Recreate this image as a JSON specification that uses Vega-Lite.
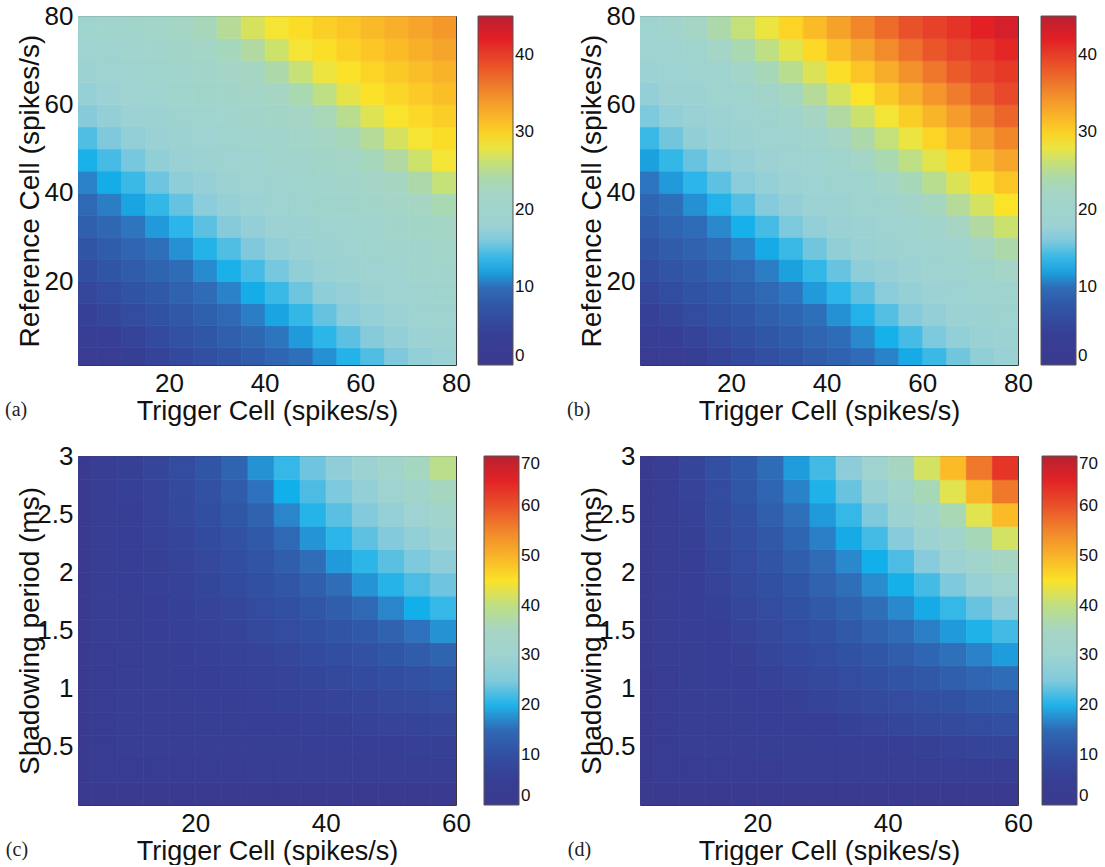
{
"$schema":"https://vega.github.io/schema/vega-lite/v6.json",
"autosize":{"type":"pad"},
"padding":{"left":4,"top":2,"right":0,"bottom":0},
"background":"white",
"bounds":"flush",
"columns":2,
"spacing":{"row":91,"column":184},
"config":{
"view":{"stroke":"#3a3a3a","strokeWidth":1},
"axis":{"labelFont":"Liberation Sans","labelFontSize":26,"labelColor":"#111","titleFont":"Liberation Sans","titleFontSize":27,"titleFontWeight":"normal","titleColor":"#111","ticks":false,"domain":false,"grid":false,"labelPadding":5,"labelFlush":false,"labelOverlap":false,"labelBound":false},
"axisX":{"titlePadding":2},
"axisY":{"titlePadding":0,"titleFontSize":28},
"legend":{"orient":"right","padding":0,"gradientLength":349,"gradientThickness":35,"labelFont":"Liberation Sans","labelFontSize":17,"labelColor":"#111","labelOffset":6,"gradientStrokeColor":"#555","gradientStrokeWidth":1,"labelOverlap":false},
"title":{"font":"Liberation Serif","fontSize":20,"fontWeight":"normal","color":"#222","orient":"bottom","anchor":"start","frame":"bounds","offset":-24,"dx":-11}
},
"resolve":{"scale":{"color":"independent"},"legend":{"color":"independent"}},
"datasets":{
"a":[
{"x":0,"y":0,"v":2},{"x":5,"y":0,"v":2.8},{"x":10,"y":0,"v":3.7},{"x":15,"y":0,"v":4.6},{"x":20,"y":0,"v":5.5},{"x":25,"y":0,"v":6.5},{"x":30,"y":0,"v":7.4},{"x":35,"y":0,"v":8.4},{"x":40,"y":0,"v":9.2},{"x":45,"y":0,"v":10.1},{"x":50,"y":0,"v":11.5},{"x":55,"y":0,"v":13},{"x":60,"y":0,"v":14.5},{"x":65,"y":0,"v":16},{"x":70,"y":0,"v":17.2},{"x":75,"y":0,"v":17.8},
{"x":0,"y":5,"v":3},{"x":5,"y":5,"v":3.9},{"x":10,"y":5,"v":4.8},{"x":15,"y":5,"v":5.7},{"x":20,"y":5,"v":6.7},{"x":25,"y":5,"v":7.6},{"x":30,"y":5,"v":8.6},{"x":35,"y":5,"v":9.4},{"x":40,"y":5,"v":10.4},{"x":45,"y":5,"v":11.8},{"x":50,"y":5,"v":13.3},{"x":55,"y":5,"v":14.8},{"x":60,"y":5,"v":16.3},{"x":65,"y":5,"v":17.3},{"x":70,"y":5,"v":17.9},{"x":75,"y":5,"v":18.5},
{"x":0,"y":10,"v":4.1},{"x":5,"y":10,"v":5},{"x":10,"y":10,"v":5.9},{"x":15,"y":10,"v":6.9},{"x":20,"y":10,"v":7.8},{"x":25,"y":10,"v":8.7},{"x":30,"y":10,"v":9.6},{"x":35,"y":10,"v":10.7},{"x":40,"y":10,"v":12.1},{"x":45,"y":10,"v":13.6},{"x":50,"y":10,"v":15.1},{"x":55,"y":10,"v":16.6},{"x":60,"y":10,"v":17.4},{"x":65,"y":10,"v":18},{"x":70,"y":10,"v":18.7},{"x":75,"y":10,"v":19.3},
{"x":0,"y":15,"v":5.2},{"x":5,"y":15,"v":6.1},{"x":10,"y":15,"v":7.1},{"x":15,"y":15,"v":8},{"x":20,"y":15,"v":8.9},{"x":25,"y":15,"v":9.8},{"x":30,"y":15,"v":11},{"x":35,"y":15,"v":12.4},{"x":40,"y":15,"v":13.9},{"x":45,"y":15,"v":15.4},{"x":50,"y":15,"v":16.9},{"x":55,"y":15,"v":17.5},{"x":60,"y":15,"v":18.2},{"x":65,"y":15,"v":18.8},{"x":70,"y":15,"v":19.4},{"x":75,"y":15,"v":20},
{"x":0,"y":20,"v":6.3},{"x":5,"y":20,"v":7.3},{"x":10,"y":20,"v":8.2},{"x":15,"y":20,"v":9.1},{"x":20,"y":20,"v":9.9},{"x":25,"y":20,"v":11.3},{"x":30,"y":20,"v":12.7},{"x":35,"y":20,"v":14.2},{"x":40,"y":20,"v":15.7},{"x":45,"y":20,"v":17.1},{"x":50,"y":20,"v":17.7},{"x":55,"y":20,"v":18.3},{"x":60,"y":20,"v":18.9},{"x":65,"y":20,"v":19.5},{"x":70,"y":20,"v":20.1},{"x":75,"y":20,"v":20.7},
{"x":0,"y":25,"v":7.4},{"x":5,"y":25,"v":8.4},{"x":10,"y":25,"v":9.2},{"x":15,"y":25,"v":10.1},{"x":20,"y":25,"v":11.5},{"x":25,"y":25,"v":13},{"x":30,"y":25,"v":14.5},{"x":35,"y":25,"v":16},{"x":40,"y":25,"v":17.2},{"x":45,"y":25,"v":17.8},{"x":50,"y":25,"v":18.4},{"x":55,"y":25,"v":19},{"x":60,"y":25,"v":19.6},{"x":65,"y":25,"v":20.2},{"x":70,"y":25,"v":20.8},{"x":75,"y":25,"v":21.5},
{"x":0,"y":30,"v":8.6},{"x":5,"y":30,"v":9.4},{"x":10,"y":30,"v":10.4},{"x":15,"y":30,"v":11.8},{"x":20,"y":30,"v":13.3},{"x":25,"y":30,"v":14.8},{"x":30,"y":30,"v":16.3},{"x":35,"y":30,"v":17.3},{"x":40,"y":30,"v":17.9},{"x":45,"y":30,"v":18.5},{"x":50,"y":30,"v":19.1},{"x":55,"y":30,"v":19.8},{"x":60,"y":30,"v":20.4},{"x":65,"y":30,"v":21},{"x":70,"y":30,"v":21.6},{"x":75,"y":30,"v":22.3},
{"x":0,"y":35,"v":9.6},{"x":5,"y":35,"v":10.7},{"x":10,"y":35,"v":12.1},{"x":15,"y":35,"v":13.6},{"x":20,"y":35,"v":15.1},{"x":25,"y":35,"v":16.6},{"x":30,"y":35,"v":17.4},{"x":35,"y":35,"v":18},{"x":40,"y":35,"v":18.7},{"x":45,"y":35,"v":19.3},{"x":50,"y":35,"v":19.9},{"x":55,"y":35,"v":20.5},{"x":60,"y":35,"v":21.1},{"x":65,"y":35,"v":21.7},{"x":70,"y":35,"v":22.5},{"x":75,"y":35,"v":23.7},
{"x":0,"y":40,"v":11},{"x":5,"y":40,"v":12.4},{"x":10,"y":40,"v":13.9},{"x":15,"y":40,"v":15.4},{"x":20,"y":40,"v":16.9},{"x":25,"y":40,"v":17.5},{"x":30,"y":40,"v":18.2},{"x":35,"y":40,"v":18.8},{"x":40,"y":40,"v":19.4},{"x":45,"y":40,"v":20},{"x":50,"y":40,"v":20.6},{"x":55,"y":40,"v":21.2},{"x":60,"y":40,"v":21.8},{"x":65,"y":40,"v":22.7},{"x":70,"y":40,"v":24.1},{"x":75,"y":40,"v":26.1},
{"x":0,"y":45,"v":12.7},{"x":5,"y":45,"v":14.2},{"x":10,"y":45,"v":15.7},{"x":15,"y":45,"v":17.1},{"x":20,"y":45,"v":17.7},{"x":25,"y":45,"v":18.3},{"x":30,"y":45,"v":18.9},{"x":35,"y":45,"v":19.5},{"x":40,"y":45,"v":20.1},{"x":45,"y":45,"v":20.7},{"x":50,"y":45,"v":21.3},{"x":55,"y":45,"v":21.9},{"x":60,"y":45,"v":23},{"x":65,"y":45,"v":24.5},{"x":70,"y":45,"v":26.5},{"x":75,"y":45,"v":28.4},
{"x":0,"y":50,"v":14.5},{"x":5,"y":50,"v":16},{"x":10,"y":50,"v":17.2},{"x":15,"y":50,"v":17.8},{"x":20,"y":50,"v":18.4},{"x":25,"y":50,"v":19},{"x":30,"y":50,"v":19.6},{"x":35,"y":50,"v":20.2},{"x":40,"y":50,"v":20.8},{"x":45,"y":50,"v":21.5},{"x":50,"y":50,"v":22.1},{"x":55,"y":50,"v":23.2},{"x":60,"y":50,"v":24.9},{"x":65,"y":50,"v":26.9},{"x":70,"y":50,"v":28.5},{"x":75,"y":50,"v":29.3},
{"x":0,"y":55,"v":16.3},{"x":5,"y":55,"v":17.3},{"x":10,"y":55,"v":17.9},{"x":15,"y":55,"v":18.5},{"x":20,"y":55,"v":19.1},{"x":25,"y":55,"v":19.8},{"x":30,"y":55,"v":20.4},{"x":35,"y":55,"v":21},{"x":40,"y":55,"v":21.6},{"x":45,"y":55,"v":22.3},{"x":50,"y":55,"v":23.4},{"x":55,"y":55,"v":25.3},{"x":60,"y":55,"v":27.3},{"x":65,"y":55,"v":28.7},{"x":70,"y":55,"v":29.5},{"x":75,"y":55,"v":30.3},
{"x":0,"y":60,"v":17.4},{"x":5,"y":60,"v":18},{"x":10,"y":60,"v":18.7},{"x":15,"y":60,"v":19.3},{"x":20,"y":60,"v":19.9},{"x":25,"y":60,"v":20.5},{"x":30,"y":60,"v":21.1},{"x":35,"y":60,"v":21.7},{"x":40,"y":60,"v":22.5},{"x":45,"y":60,"v":23.7},{"x":50,"y":60,"v":25.7},{"x":55,"y":60,"v":27.7},{"x":60,"y":60,"v":28.9},{"x":65,"y":60,"v":29.7},{"x":70,"y":60,"v":30.5},{"x":75,"y":60,"v":31.3},
{"x":0,"y":65,"v":18.2},{"x":5,"y":65,"v":18.8},{"x":10,"y":65,"v":19.4},{"x":15,"y":65,"v":20},{"x":20,"y":65,"v":20.6},{"x":25,"y":65,"v":21.2},{"x":30,"y":65,"v":21.8},{"x":35,"y":65,"v":22.7},{"x":40,"y":65,"v":24.1},{"x":45,"y":65,"v":26.1},{"x":50,"y":65,"v":28.1},{"x":55,"y":65,"v":29},{"x":60,"y":65,"v":29.8},{"x":65,"y":65,"v":30.6},{"x":70,"y":65,"v":31.4},{"x":75,"y":65,"v":32.2},
{"x":0,"y":70,"v":18.9},{"x":5,"y":70,"v":19.5},{"x":10,"y":70,"v":20.1},{"x":15,"y":70,"v":20.7},{"x":20,"y":70,"v":21.3},{"x":25,"y":70,"v":21.9},{"x":30,"y":70,"v":23},{"x":35,"y":70,"v":24.5},{"x":40,"y":70,"v":26.5},{"x":45,"y":70,"v":28.4},{"x":50,"y":70,"v":29.2},{"x":55,"y":70,"v":30},{"x":60,"y":70,"v":30.8},{"x":65,"y":70,"v":31.6},{"x":70,"y":70,"v":32.4},{"x":75,"y":70,"v":33.2},
{"x":0,"y":75,"v":19.6},{"x":5,"y":75,"v":20.2},{"x":10,"y":75,"v":20.8},{"x":15,"y":75,"v":21.5},{"x":20,"y":75,"v":22.1},{"x":25,"y":75,"v":23.2},{"x":30,"y":75,"v":24.9},{"x":35,"y":75,"v":26.9},{"x":40,"y":75,"v":28.5},{"x":45,"y":75,"v":29.3},{"x":50,"y":75,"v":30.1},{"x":55,"y":75,"v":30.9},{"x":60,"y":75,"v":31.7},{"x":65,"y":75,"v":32.5},{"x":70,"y":75,"v":33.3},{"x":75,"y":75,"v":34.1}
],
"b":[
{"x":0,"y":0,"v":2},{"x":5,"y":0,"v":2.8},{"x":10,"y":0,"v":3.7},{"x":15,"y":0,"v":4.6},{"x":20,"y":0,"v":5.5},{"x":25,"y":0,"v":6.4},{"x":30,"y":0,"v":7.4},{"x":35,"y":0,"v":8.3},{"x":40,"y":0,"v":9},{"x":45,"y":0,"v":9.8},{"x":50,"y":0,"v":11},{"x":55,"y":0,"v":12.3},{"x":60,"y":0,"v":13.9},{"x":65,"y":0,"v":15.5},{"x":70,"y":0,"v":17.1},{"x":75,"y":0,"v":17.7},
{"x":0,"y":5,"v":3},{"x":5,"y":5,"v":3.9},{"x":10,"y":5,"v":4.8},{"x":15,"y":5,"v":5.7},{"x":20,"y":5,"v":6.6},{"x":25,"y":5,"v":7.6},{"x":30,"y":5,"v":8.4},{"x":35,"y":5,"v":9.2},{"x":40,"y":5,"v":9.9},{"x":45,"y":5,"v":11.2},{"x":50,"y":5,"v":12.6},{"x":55,"y":5,"v":14.2},{"x":60,"y":5,"v":15.9},{"x":65,"y":5,"v":17.2},{"x":70,"y":5,"v":17.8},{"x":75,"y":5,"v":18.4},
{"x":0,"y":10,"v":4.1},{"x":5,"y":10,"v":5},{"x":10,"y":10,"v":5.9},{"x":15,"y":10,"v":6.8},{"x":20,"y":10,"v":7.7},{"x":25,"y":10,"v":8.6},{"x":30,"y":10,"v":9.3},{"x":35,"y":10,"v":10.1},{"x":40,"y":10,"v":11.5},{"x":45,"y":10,"v":12.9},{"x":50,"y":10,"v":14.6},{"x":55,"y":10,"v":16.2},{"x":60,"y":10,"v":17.3},{"x":65,"y":10,"v":17.9},{"x":70,"y":10,"v":18.5},{"x":75,"y":10,"v":19.1},
{"x":0,"y":15,"v":5.2},{"x":5,"y":15,"v":6.1},{"x":10,"y":15,"v":7},{"x":15,"y":15,"v":7.9},{"x":20,"y":15,"v":8.7},{"x":25,"y":15,"v":9.5},{"x":30,"y":15,"v":10.4},{"x":35,"y":15,"v":11.8},{"x":40,"y":15,"v":13.3},{"x":45,"y":15,"v":14.9},{"x":50,"y":15,"v":16.5},{"x":55,"y":15,"v":17.4},{"x":60,"y":15,"v":18},{"x":65,"y":15,"v":18.6},{"x":70,"y":15,"v":19.2},{"x":75,"y":15,"v":19.8},
{"x":0,"y":20,"v":6.3},{"x":5,"y":20,"v":7.2},{"x":10,"y":20,"v":8.1},{"x":15,"y":20,"v":8.9},{"x":20,"y":20,"v":9.6},{"x":25,"y":20,"v":10.7},{"x":30,"y":20,"v":12},{"x":35,"y":20,"v":13.6},{"x":40,"y":20,"v":15.2},{"x":45,"y":20,"v":16.8},{"x":50,"y":20,"v":17.5},{"x":55,"y":20,"v":18.1},{"x":60,"y":20,"v":18.7},{"x":65,"y":20,"v":19.3},{"x":70,"y":20,"v":19.9},{"x":75,"y":20,"v":21.8},
{"x":0,"y":25,"v":7.4},{"x":5,"y":25,"v":8.3},{"x":10,"y":25,"v":9},{"x":15,"y":25,"v":9.8},{"x":20,"y":25,"v":11},{"x":25,"y":25,"v":12.3},{"x":30,"y":25,"v":13.9},{"x":35,"y":25,"v":15.5},{"x":40,"y":25,"v":17.1},{"x":45,"y":25,"v":17.7},{"x":50,"y":25,"v":18.3},{"x":55,"y":25,"v":18.9},{"x":60,"y":25,"v":19.5},{"x":65,"y":25,"v":20.2},{"x":70,"y":25,"v":22.1},{"x":75,"y":25,"v":24.1},
{"x":0,"y":30,"v":8.4},{"x":5,"y":30,"v":9.2},{"x":10,"y":30,"v":9.9},{"x":15,"y":30,"v":11.2},{"x":20,"y":30,"v":12.6},{"x":25,"y":30,"v":14.2},{"x":30,"y":30,"v":15.9},{"x":35,"y":30,"v":17.2},{"x":40,"y":30,"v":17.8},{"x":45,"y":30,"v":18.4},{"x":50,"y":30,"v":19},{"x":55,"y":30,"v":19.6},{"x":60,"y":30,"v":20.6},{"x":65,"y":30,"v":22.5},{"x":70,"y":30,"v":24.5},{"x":75,"y":30,"v":26.4},
{"x":0,"y":35,"v":9.3},{"x":5,"y":35,"v":10.1},{"x":10,"y":35,"v":11.5},{"x":15,"y":35,"v":12.9},{"x":20,"y":35,"v":14.6},{"x":25,"y":35,"v":16.2},{"x":30,"y":35,"v":17.3},{"x":35,"y":35,"v":17.9},{"x":40,"y":35,"v":18.5},{"x":45,"y":35,"v":19.1},{"x":50,"y":35,"v":19.7},{"x":55,"y":35,"v":21},{"x":60,"y":35,"v":22.9},{"x":65,"y":35,"v":24.9},{"x":70,"y":35,"v":26.8},{"x":75,"y":35,"v":28.8},
{"x":0,"y":40,"v":10.4},{"x":5,"y":40,"v":11.8},{"x":10,"y":40,"v":13.3},{"x":15,"y":40,"v":14.9},{"x":20,"y":40,"v":16.5},{"x":25,"y":40,"v":17.4},{"x":30,"y":40,"v":18},{"x":35,"y":40,"v":18.6},{"x":40,"y":40,"v":19.2},{"x":45,"y":40,"v":19.8},{"x":50,"y":40,"v":21.4},{"x":55,"y":40,"v":23.3},{"x":60,"y":40,"v":25.3},{"x":65,"y":40,"v":27.2},{"x":70,"y":40,"v":29.2},{"x":75,"y":40,"v":30.9},
{"x":0,"y":45,"v":12},{"x":5,"y":45,"v":13.6},{"x":10,"y":45,"v":15.2},{"x":15,"y":45,"v":16.8},{"x":20,"y":45,"v":17.5},{"x":25,"y":45,"v":18.1},{"x":30,"y":45,"v":18.7},{"x":35,"y":45,"v":19.3},{"x":40,"y":45,"v":19.9},{"x":45,"y":45,"v":21.8},{"x":50,"y":45,"v":23.7},{"x":55,"y":45,"v":25.7},{"x":60,"y":45,"v":27.6},{"x":65,"y":45,"v":29.5},{"x":70,"y":45,"v":31.3},{"x":75,"y":45,"v":33.1},
{"x":0,"y":50,"v":13.9},{"x":5,"y":50,"v":15.5},{"x":10,"y":50,"v":17.1},{"x":15,"y":50,"v":17.7},{"x":20,"y":50,"v":18.3},{"x":25,"y":50,"v":18.9},{"x":30,"y":50,"v":19.5},{"x":35,"y":50,"v":20.2},{"x":40,"y":50,"v":22.1},{"x":45,"y":50,"v":24.1},{"x":50,"y":50,"v":26},{"x":55,"y":50,"v":28},{"x":60,"y":50,"v":29.8},{"x":65,"y":50,"v":31.6},{"x":70,"y":50,"v":33.4},{"x":75,"y":50,"v":35.2},
{"x":0,"y":55,"v":15.9},{"x":5,"y":55,"v":17.2},{"x":10,"y":55,"v":17.8},{"x":15,"y":55,"v":18.4},{"x":20,"y":55,"v":19},{"x":25,"y":55,"v":19.6},{"x":30,"y":55,"v":20.6},{"x":35,"y":55,"v":22.5},{"x":40,"y":55,"v":24.5},{"x":45,"y":55,"v":26.4},{"x":50,"y":55,"v":28.4},{"x":55,"y":55,"v":30.2},{"x":60,"y":55,"v":32},{"x":65,"y":55,"v":33.8},{"x":70,"y":55,"v":35.6},{"x":75,"y":55,"v":37.4},
{"x":0,"y":60,"v":17.3},{"x":5,"y":60,"v":17.9},{"x":10,"y":60,"v":18.5},{"x":15,"y":60,"v":19.1},{"x":20,"y":60,"v":19.7},{"x":25,"y":60,"v":21},{"x":30,"y":60,"v":22.9},{"x":35,"y":60,"v":24.9},{"x":40,"y":60,"v":26.8},{"x":45,"y":60,"v":28.8},{"x":50,"y":60,"v":30.6},{"x":55,"y":60,"v":32.4},{"x":60,"y":60,"v":34.2},{"x":65,"y":60,"v":36},{"x":70,"y":60,"v":37.8},{"x":75,"y":60,"v":39},
{"x":0,"y":65,"v":18},{"x":5,"y":65,"v":18.6},{"x":10,"y":65,"v":19.2},{"x":15,"y":65,"v":19.8},{"x":20,"y":65,"v":21.4},{"x":25,"y":65,"v":23.3},{"x":30,"y":65,"v":25.3},{"x":35,"y":65,"v":27.2},{"x":40,"y":65,"v":29.2},{"x":45,"y":65,"v":30.9},{"x":50,"y":65,"v":32.7},{"x":55,"y":65,"v":34.5},{"x":60,"y":65,"v":36.3},{"x":65,"y":65,"v":38.1},{"x":70,"y":65,"v":39.2},{"x":75,"y":65,"v":40.3},
{"x":0,"y":70,"v":18.7},{"x":5,"y":70,"v":19.3},{"x":10,"y":70,"v":19.9},{"x":15,"y":70,"v":21.8},{"x":20,"y":70,"v":23.7},{"x":25,"y":70,"v":25.7},{"x":30,"y":70,"v":27.6},{"x":35,"y":70,"v":29.5},{"x":40,"y":70,"v":31.3},{"x":45,"y":70,"v":33.1},{"x":50,"y":70,"v":34.9},{"x":55,"y":70,"v":36.7},{"x":60,"y":70,"v":38.3},{"x":65,"y":70,"v":39.4},{"x":70,"y":70,"v":40.5},{"x":75,"y":70,"v":41.6},
{"x":0,"y":75,"v":19.5},{"x":5,"y":75,"v":20.2},{"x":10,"y":75,"v":22.1},{"x":15,"y":75,"v":24.1},{"x":20,"y":75,"v":26},{"x":25,"y":75,"v":28},{"x":30,"y":75,"v":29.8},{"x":35,"y":75,"v":31.6},{"x":40,"y":75,"v":33.4},{"x":45,"y":75,"v":35.2},{"x":50,"y":75,"v":37},{"x":55,"y":75,"v":38.6},{"x":60,"y":75,"v":39.7},{"x":65,"y":75,"v":40.8},{"x":70,"y":75,"v":41.9},{"x":75,"y":75,"v":43}
],
"c":[
{"x":0,"y":0,"v":1},{"x":4,"y":0,"v":1.5},{"x":8,"y":0,"v":1.5},{"x":12,"y":0,"v":1.5},{"x":16,"y":0,"v":1.5},{"x":20,"y":0,"v":1.5},{"x":24,"y":0,"v":1.5},{"x":28,"y":0,"v":1.5},{"x":32,"y":0,"v":1.5},{"x":36,"y":0,"v":1.5},{"x":40,"y":0,"v":1.5},{"x":44,"y":0,"v":1.5},{"x":48,"y":0,"v":1.5},{"x":52,"y":0,"v":1.5},{"x":56,"y":0,"v":1.5},
{"x":0,"y":0.2,"v":1.5},{"x":4,"y":0.2,"v":4.1},{"x":8,"y":0.2,"v":4.1},{"x":12,"y":0.2,"v":4.2},{"x":16,"y":0.2,"v":4.2},{"x":20,"y":0.2,"v":4.3},{"x":24,"y":0.2,"v":4.3},{"x":28,"y":0.2,"v":4.4},{"x":32,"y":0.2,"v":4.4},{"x":36,"y":0.2,"v":4.5},{"x":40,"y":0.2,"v":4.5},{"x":44,"y":0.2,"v":4.6},{"x":48,"y":0.2,"v":4.6},{"x":52,"y":0.2,"v":4.6},{"x":56,"y":0.2,"v":4.7},
{"x":0,"y":0.4,"v":1.5},{"x":4,"y":0.4,"v":4.1},{"x":8,"y":0.4,"v":5.2},{"x":12,"y":0.4,"v":5.3},{"x":16,"y":0.4,"v":5.4},{"x":20,"y":0.4,"v":5.4},{"x":24,"y":0.4,"v":5.5},{"x":28,"y":0.4,"v":5.6},{"x":32,"y":0.4,"v":5.7},{"x":36,"y":0.4,"v":5.8},{"x":40,"y":0.4,"v":5.9},{"x":44,"y":0.4,"v":6.1},{"x":48,"y":0.4,"v":6.2},{"x":52,"y":0.4,"v":6.4},{"x":56,"y":0.4,"v":6.6},
{"x":0,"y":0.6,"v":1.6},{"x":4,"y":0.6,"v":4.2},{"x":8,"y":0.6,"v":5.3},{"x":12,"y":0.6,"v":5.4},{"x":16,"y":0.6,"v":5.5},{"x":20,"y":0.6,"v":5.6},{"x":24,"y":0.6,"v":5.7},{"x":28,"y":0.6,"v":5.9},{"x":32,"y":0.6,"v":6.1},{"x":36,"y":0.6,"v":6.4},{"x":40,"y":0.6,"v":6.6},{"x":44,"y":0.6,"v":6.8},{"x":48,"y":0.6,"v":7.1},{"x":52,"y":0.6,"v":7.3},{"x":56,"y":0.6,"v":7.6},
{"x":0,"y":0.8,"v":1.6},{"x":4,"y":0.8,"v":4.2},{"x":8,"y":0.8,"v":5.4},{"x":12,"y":0.8,"v":5.5},{"x":16,"y":0.8,"v":5.7},{"x":20,"y":0.8,"v":5.8},{"x":24,"y":0.8,"v":6.1},{"x":28,"y":0.8,"v":6.4},{"x":32,"y":0.8,"v":6.7},{"x":36,"y":0.8,"v":7},{"x":40,"y":0.8,"v":7.3},{"x":44,"y":0.8,"v":7.7},{"x":48,"y":0.8,"v":8.3},{"x":52,"y":0.8,"v":8.8},{"x":56,"y":0.8,"v":9.3},
{"x":0,"y":1,"v":1.6},{"x":4,"y":1,"v":4.3},{"x":8,"y":1,"v":5.4},{"x":12,"y":1,"v":5.6},{"x":16,"y":1,"v":5.8},{"x":20,"y":1,"v":6.2},{"x":24,"y":1,"v":6.5},{"x":28,"y":1,"v":6.9},{"x":32,"y":1,"v":7.3},{"x":36,"y":1,"v":7.8},{"x":40,"y":1,"v":8.4},{"x":44,"y":1,"v":9.1},{"x":48,"y":1,"v":9.8},{"x":52,"y":1,"v":10.4},{"x":56,"y":1,"v":11.4},
{"x":0,"y":1.2,"v":1.6},{"x":4,"y":1.2,"v":4.3},{"x":8,"y":1.2,"v":5.5},{"x":12,"y":1.2,"v":5.7},{"x":16,"y":1.2,"v":6.1},{"x":20,"y":1.2,"v":6.5},{"x":24,"y":1.2,"v":7},{"x":28,"y":1.2,"v":7.4},{"x":32,"y":1.2,"v":8.1},{"x":36,"y":1.2,"v":8.9},{"x":40,"y":1.2,"v":9.7},{"x":44,"y":1.2,"v":10.5},{"x":48,"y":1.2,"v":11.7},{"x":52,"y":1.2,"v":12.9},{"x":56,"y":1.2,"v":14.1},
{"x":0,"y":1.4,"v":1.6},{"x":4,"y":1.4,"v":4.4},{"x":8,"y":1.4,"v":5.6},{"x":12,"y":1.4,"v":5.9},{"x":16,"y":1.4,"v":6.4},{"x":20,"y":1.4,"v":6.9},{"x":24,"y":1.4,"v":7.4},{"x":28,"y":1.4,"v":8.3},{"x":32,"y":1.4,"v":9.2},{"x":36,"y":1.4,"v":10.1},{"x":40,"y":1.4,"v":11.2},{"x":44,"y":1.4,"v":12.6},{"x":48,"y":1.4,"v":14},{"x":52,"y":1.4,"v":15.9},{"x":56,"y":1.4,"v":17.9},
{"x":0,"y":1.6,"v":1.6},{"x":4,"y":1.6,"v":4.4},{"x":8,"y":1.6,"v":5.7},{"x":12,"y":1.6,"v":6.1},{"x":16,"y":1.6,"v":6.7},{"x":20,"y":1.6,"v":7.3},{"x":24,"y":1.6,"v":8.1},{"x":28,"y":1.6,"v":9.2},{"x":32,"y":1.6,"v":10.2},{"x":36,"y":1.6,"v":11.6},{"x":40,"y":1.6,"v":13.2},{"x":44,"y":1.6,"v":15},{"x":48,"y":1.6,"v":17.2},{"x":52,"y":1.6,"v":19.4},{"x":56,"y":1.6,"v":21.3},
{"x":0,"y":1.8,"v":1.7},{"x":4,"y":1.8,"v":4.5},{"x":8,"y":1.8,"v":5.8},{"x":12,"y":1.8,"v":6.4},{"x":16,"y":1.8,"v":7},{"x":20,"y":1.8,"v":7.8},{"x":24,"y":1.8,"v":8.9},{"x":28,"y":1.8,"v":10.1},{"x":32,"y":1.8,"v":11.6},{"x":36,"y":1.8,"v":13.4},{"x":40,"y":1.8,"v":15.6},{"x":44,"y":1.8,"v":18},{"x":48,"y":1.8,"v":20.3},{"x":52,"y":1.8,"v":22.4},{"x":56,"y":1.8,"v":24},
{"x":0,"y":2,"v":1.7},{"x":4,"y":2,"v":4.5},{"x":8,"y":2,"v":5.9},{"x":12,"y":2,"v":6.6},{"x":16,"y":2,"v":7.3},{"x":20,"y":2,"v":8.4},{"x":24,"y":2,"v":9.7},{"x":28,"y":2,"v":11.2},{"x":32,"y":2,"v":13.2},{"x":36,"y":2,"v":15.6},{"x":40,"y":2,"v":18.3},{"x":44,"y":2,"v":20.7},{"x":48,"y":2,"v":23},{"x":52,"y":2,"v":24.7},{"x":56,"y":2,"v":26.4},
{"x":0,"y":2.2,"v":1.7},{"x":4,"y":2.2,"v":4.6},{"x":8,"y":2.2,"v":6.1},{"x":12,"y":2.2,"v":6.8},{"x":16,"y":2.2,"v":7.7},{"x":20,"y":2.2,"v":9.1},{"x":24,"y":2.2,"v":10.5},{"x":28,"y":2.2,"v":12.6},{"x":32,"y":2.2,"v":15},{"x":36,"y":2.2,"v":18},{"x":40,"y":2.2,"v":20.7},{"x":44,"y":2.2,"v":23.2},{"x":48,"y":2.2,"v":25},{"x":52,"y":2.2,"v":26.8},{"x":56,"y":2.2,"v":28.7},
{"x":0,"y":2.4,"v":1.7},{"x":4,"y":2.4,"v":4.6},{"x":8,"y":2.4,"v":6.2},{"x":12,"y":2.4,"v":7.1},{"x":16,"y":2.4,"v":8.3},{"x":20,"y":2.4,"v":9.8},{"x":24,"y":2.4,"v":11.7},{"x":28,"y":2.4,"v":14},{"x":32,"y":2.4,"v":17.2},{"x":36,"y":2.4,"v":20.3},{"x":40,"y":2.4,"v":23},{"x":44,"y":2.4,"v":25},{"x":48,"y":2.4,"v":27},{"x":52,"y":2.4,"v":29},{"x":56,"y":2.4,"v":32.5},
{"x":0,"y":2.6,"v":1.7},{"x":4,"y":2.6,"v":4.7},{"x":8,"y":2.6,"v":6.4},{"x":12,"y":2.6,"v":7.3},{"x":16,"y":2.6,"v":8.8},{"x":20,"y":2.6,"v":10.4},{"x":24,"y":2.6,"v":12.9},{"x":28,"y":2.6,"v":15.9},{"x":32,"y":2.6,"v":19.4},{"x":36,"y":2.6,"v":22.4},{"x":40,"y":2.6,"v":24.7},{"x":44,"y":2.6,"v":26.8},{"x":48,"y":2.6,"v":29},{"x":52,"y":2.6,"v":32.5},{"x":56,"y":2.6,"v":35.5},
{"x":0,"y":2.8,"v":1.7},{"x":4,"y":2.8,"v":4.7},{"x":8,"y":2.8,"v":6.6},{"x":12,"y":2.8,"v":7.6},{"x":16,"y":2.8,"v":9.3},{"x":20,"y":2.8,"v":11.4},{"x":24,"y":2.8,"v":14.1},{"x":28,"y":2.8,"v":17.9},{"x":32,"y":2.8,"v":21.3},{"x":36,"y":2.8,"v":24},{"x":40,"y":2.8,"v":26.4},{"x":44,"y":2.8,"v":28.7},{"x":48,"y":2.8,"v":32.5},{"x":52,"y":2.8,"v":35.5},{"x":56,"y":2.8,"v":39.5}
],
"d":[
{"x":0,"y":0,"v":1},{"x":4,"y":0,"v":1.5},{"x":8,"y":0,"v":1.5},{"x":12,"y":0,"v":1.5},{"x":16,"y":0,"v":1.5},{"x":20,"y":0,"v":1.5},{"x":24,"y":0,"v":1.5},{"x":28,"y":0,"v":1.5},{"x":32,"y":0,"v":1.5},{"x":36,"y":0,"v":1.5},{"x":40,"y":0,"v":1.5},{"x":44,"y":0,"v":1.5},{"x":48,"y":0,"v":1.5},{"x":52,"y":0,"v":1.5},{"x":56,"y":0,"v":1.5},
{"x":0,"y":0.2,"v":1.5},{"x":4,"y":0.2,"v":4.1},{"x":8,"y":0.2,"v":4.2},{"x":12,"y":0.2,"v":4.2},{"x":16,"y":0.2,"v":4.3},{"x":20,"y":0.2,"v":4.3},{"x":24,"y":0.2,"v":4.4},{"x":28,"y":0.2,"v":4.5},{"x":32,"y":0.2,"v":4.5},{"x":36,"y":0.2,"v":4.6},{"x":40,"y":0.2,"v":4.6},{"x":44,"y":0.2,"v":4.7},{"x":48,"y":0.2,"v":4.8},{"x":52,"y":0.2,"v":4.8},{"x":56,"y":0.2,"v":4.9},
{"x":0,"y":0.4,"v":1.6},{"x":4,"y":0.4,"v":4.2},{"x":8,"y":0.4,"v":5.3},{"x":12,"y":0.4,"v":5.4},{"x":16,"y":0.4,"v":5.5},{"x":20,"y":0.4,"v":5.6},{"x":24,"y":0.4,"v":5.7},{"x":28,"y":0.4,"v":5.8},{"x":32,"y":0.4,"v":5.9},{"x":36,"y":0.4,"v":6},{"x":40,"y":0.4,"v":6.2},{"x":44,"y":0.4,"v":6.6},{"x":48,"y":0.4,"v":6.9},{"x":52,"y":0.4,"v":7.3},{"x":56,"y":0.4,"v":7.7},
{"x":0,"y":0.6,"v":1.6},{"x":4,"y":0.6,"v":4.2},{"x":8,"y":0.6,"v":5.4},{"x":12,"y":0.6,"v":5.5},{"x":16,"y":0.6,"v":5.6},{"x":20,"y":0.6,"v":5.8},{"x":24,"y":0.6,"v":5.9},{"x":28,"y":0.6,"v":6.2},{"x":32,"y":0.6,"v":6.7},{"x":36,"y":0.6,"v":7.2},{"x":40,"y":0.6,"v":7.8},{"x":44,"y":0.6,"v":8.3},{"x":48,"y":0.6,"v":8.8},{"x":52,"y":0.6,"v":9.3},{"x":56,"y":0.6,"v":9.9},
{"x":0,"y":0.8,"v":1.6},{"x":4,"y":0.8,"v":4.3},{"x":8,"y":0.8,"v":5.5},{"x":12,"y":0.8,"v":5.6},{"x":16,"y":0.8,"v":5.8},{"x":20,"y":0.8,"v":6},{"x":24,"y":0.8,"v":6.6},{"x":28,"y":0.8,"v":7.3},{"x":32,"y":0.8,"v":8},{"x":36,"y":0.8,"v":8.7},{"x":40,"y":0.8,"v":9.3},{"x":44,"y":0.8,"v":10},{"x":48,"y":0.8,"v":10.8},{"x":52,"y":0.8,"v":11.7},{"x":56,"y":0.8,"v":12.6},
{"x":0,"y":1,"v":1.6},{"x":4,"y":1,"v":4.3},{"x":8,"y":1,"v":5.6},{"x":12,"y":1,"v":5.8},{"x":16,"y":1,"v":6},{"x":20,"y":1,"v":6.8},{"x":24,"y":1,"v":7.6},{"x":28,"y":1,"v":8.4},{"x":32,"y":1,"v":9.3},{"x":36,"y":1,"v":10.1},{"x":40,"y":1,"v":11.1},{"x":44,"y":1,"v":12.2},{"x":48,"y":1,"v":13.3},{"x":52,"y":1,"v":14.4},{"x":56,"y":1,"v":15.5},
{"x":0,"y":1.2,"v":1.6},{"x":4,"y":1.2,"v":4.4},{"x":8,"y":1.2,"v":5.7},{"x":12,"y":1.2,"v":5.9},{"x":16,"y":1.2,"v":6.6},{"x":20,"y":1.2,"v":7.6},{"x":24,"y":1.2,"v":8.6},{"x":28,"y":1.2,"v":9.6},{"x":32,"y":1.2,"v":10.6},{"x":36,"y":1.2,"v":11.9},{"x":40,"y":1.2,"v":13.2},{"x":44,"y":1.2,"v":14.5},{"x":48,"y":1.2,"v":15.8},{"x":52,"y":1.2,"v":17.1},{"x":56,"y":1.2,"v":18.4},
{"x":0,"y":1.4,"v":1.7},{"x":4,"y":1.4,"v":4.5},{"x":8,"y":1.4,"v":5.8},{"x":12,"y":1.4,"v":6.2},{"x":16,"y":1.4,"v":7.3},{"x":20,"y":1.4,"v":8.4},{"x":24,"y":1.4,"v":9.6},{"x":28,"y":1.4,"v":10.8},{"x":32,"y":1.4,"v":12.3},{"x":36,"y":1.4,"v":13.8},{"x":40,"y":1.4,"v":15.3},{"x":44,"y":1.4,"v":16.8},{"x":48,"y":1.4,"v":18.3},{"x":52,"y":1.4,"v":19.9},{"x":56,"y":1.4,"v":22},
{"x":0,"y":1.6,"v":1.7},{"x":4,"y":1.6,"v":4.5},{"x":8,"y":1.6,"v":5.9},{"x":12,"y":1.6,"v":6.7},{"x":16,"y":1.6,"v":8},{"x":20,"y":1.6,"v":9.3},{"x":24,"y":1.6,"v":10.6},{"x":28,"y":1.6,"v":12.3},{"x":32,"y":1.6,"v":14},{"x":36,"y":1.6,"v":15.7},{"x":40,"y":1.6,"v":17.4},{"x":44,"y":1.6,"v":19.1},{"x":48,"y":1.6,"v":21.3},{"x":52,"y":1.6,"v":23.6},{"x":56,"y":1.6,"v":26},
{"x":0,"y":1.8,"v":1.7},{"x":4,"y":1.8,"v":4.6},{"x":8,"y":1.8,"v":6},{"x":12,"y":1.8,"v":7.2},{"x":16,"y":1.8,"v":8.7},{"x":20,"y":1.8,"v":10.1},{"x":24,"y":1.8,"v":11.9},{"x":28,"y":1.8,"v":13.8},{"x":32,"y":1.8,"v":15.7},{"x":36,"y":1.8,"v":17.6},{"x":40,"y":1.8,"v":19.5},{"x":44,"y":1.8,"v":22.1},{"x":48,"y":1.8,"v":24.8},{"x":52,"y":1.8,"v":27.4},{"x":56,"y":1.8,"v":30.1},
{"x":0,"y":2,"v":1.7},{"x":4,"y":2,"v":4.6},{"x":8,"y":2,"v":6.2},{"x":12,"y":2,"v":7.8},{"x":16,"y":2,"v":9.3},{"x":20,"y":2,"v":11.1},{"x":24,"y":2,"v":13.2},{"x":28,"y":2,"v":15.3},{"x":32,"y":2,"v":17.4},{"x":36,"y":2,"v":19.4},{"x":40,"y":2,"v":22.4},{"x":44,"y":2,"v":25.3},{"x":48,"y":2,"v":28.3},{"x":52,"y":2,"v":31.5},{"x":56,"y":2,"v":35.2},
{"x":0,"y":2.2,"v":1.7},{"x":4,"y":2.2,"v":4.7},{"x":8,"y":2.2,"v":6.6},{"x":12,"y":2.2,"v":8.3},{"x":16,"y":2.2,"v":10},{"x":20,"y":2.2,"v":12.2},{"x":24,"y":2.2,"v":14.5},{"x":28,"y":2.2,"v":16.8},{"x":32,"y":2.2,"v":19.1},{"x":36,"y":2.2,"v":22.1},{"x":40,"y":2.2,"v":25.3},{"x":44,"y":2.2,"v":28.5},{"x":48,"y":2.2,"v":32.2},{"x":52,"y":2.2,"v":36.3},{"x":56,"y":2.2,"v":41.6},
{"x":0,"y":2.4,"v":1.8},{"x":4,"y":2.4,"v":4.8},{"x":8,"y":2.4,"v":6.9},{"x":12,"y":2.4,"v":8.8},{"x":16,"y":2.4,"v":10.8},{"x":20,"y":2.4,"v":13.3},{"x":24,"y":2.4,"v":15.8},{"x":28,"y":2.4,"v":18.3},{"x":32,"y":2.4,"v":21.3},{"x":36,"y":2.4,"v":24.8},{"x":40,"y":2.4,"v":28.3},{"x":44,"y":2.4,"v":32.2},{"x":48,"y":2.4,"v":36.7},{"x":52,"y":2.4,"v":42.7},{"x":56,"y":2.4,"v":49.1},
{"x":0,"y":2.6,"v":1.8},{"x":4,"y":2.6,"v":4.8},{"x":8,"y":2.6,"v":7.3},{"x":12,"y":2.6,"v":9.3},{"x":16,"y":2.6,"v":11.7},{"x":20,"y":2.6,"v":14.4},{"x":24,"y":2.6,"v":17.1},{"x":28,"y":2.6,"v":19.9},{"x":32,"y":2.6,"v":23.6},{"x":36,"y":2.6,"v":27.4},{"x":40,"y":2.6,"v":31.5},{"x":44,"y":2.6,"v":36.4},{"x":48,"y":2.6,"v":42.7},{"x":52,"y":2.6,"v":49.6},{"x":56,"y":2.6,"v":56.3},
{"x":0,"y":2.8,"v":1.8},{"x":4,"y":2.8,"v":4.9},{"x":8,"y":2.8,"v":7.7},{"x":12,"y":2.8,"v":9.9},{"x":16,"y":2.8,"v":12.6},{"x":20,"y":2.8,"v":15.5},{"x":24,"y":2.8,"v":18.4},{"x":28,"y":2.8,"v":22},{"x":32,"y":2.8,"v":26},{"x":36,"y":2.8,"v":30.1},{"x":40,"y":2.8,"v":35.2},{"x":44,"y":2.8,"v":41.6},{"x":48,"y":2.8,"v":49.1},{"x":52,"y":2.8,"v":56.3},{"x":56,"y":2.8,"v":63.3}
]
},
"concat":[
{"width":378,"height":349,"data":{"name":"a"},
"title":{"text":"(a)"},
"mark":{"type":"rect","clip":true,"binSpacing":0,"strokeWidth":0.7,"stroke":{"expr":"scale('concat_0_color', datum.v)"}},
"encoding":{
"x":{"field":"x","type":"quantitative","bin":{"binned":true,"step":5},"scale":{"domain":[1,80],"nice":false,"zero":false},"axis":{"values":[20,40,60,80],"format":"d","title":"Trigger Cell (spikes/s)"}},
"y":{"field":"y","type":"quantitative","bin":{"binned":true,"step":5},"scale":{"domain":[1,80],"nice":false,"zero":false},"axis":{"values":[20,40,60,80],"format":"d","title":"Reference Cell (spikes/s)"}},
"color":{"field":"v","type":"quantitative","scale":{"domain":[0,4,8,10,11.2,12.5,14,16.2,18,22.5,24.6,27,28.8,30,33,36,39,42,45],"range":["#3b3a8e","#363f95","#3059a8","#2f6db8","#2a88cc","#12b0ea","#3cb9e6","#86cbdc","#9dd2d4","#a6d5c4","#b4d9a0","#d9e25a","#fbe428","#fbd126","#f6a82b","#ef7b2c","#e8492a","#e31f25","#b82130"]},"legend":{"type":"gradient","title":null,"offset":22,"values":[0,10,20,30,40]}}
}},
{"width":378,"height":349,"data":{"name":"b"},
"title":{"text":"(b)"},
"mark":{"type":"rect","clip":true,"binSpacing":0,"strokeWidth":0.7,"stroke":{"expr":"scale('concat_1_color', datum.v)"}},
"encoding":{
"x":{"field":"x","type":"quantitative","bin":{"binned":true,"step":5},"scale":{"domain":[1,80],"nice":false,"zero":false},"axis":{"values":[20,40,60,80],"format":"d","title":"Trigger Cell (spikes/s)"}},
"y":{"field":"y","type":"quantitative","bin":{"binned":true,"step":5},"scale":{"domain":[1,80],"nice":false,"zero":false},"axis":{"values":[20,40,60,80],"format":"d","title":"Reference Cell (spikes/s)"}},
"color":{"field":"v","type":"quantitative","scale":{"domain":[0,4,8,10,11.2,12.5,14,16.2,18,22.5,24.6,27,28.8,30,33,36,39,42,45],"range":["#3b3a8e","#363f95","#3059a8","#2f6db8","#2a88cc","#12b0ea","#3cb9e6","#86cbdc","#9dd2d4","#a6d5c4","#b4d9a0","#d9e25a","#fbe428","#fbd126","#f6a82b","#ef7b2c","#e8492a","#e31f25","#b82130"]},"legend":{"type":"gradient","title":null,"offset":23,"values":[0,10,20,30,40]}}
}},
{"width":378,"height":349,"data":{"name":"c"},
"title":{"text":"(c)"},
"mark":{"type":"rect","clip":true,"binSpacing":0,"strokeWidth":0.7,"stroke":{"expr":"scale('concat_2_color', datum.v)"}},
"encoding":{
"x":{"field":"x","type":"quantitative","bin":{"binned":true,"step":4},"scale":{"domain":[2,60],"nice":false,"zero":false},"axis":{"values":[20,40,60],"format":"d","title":"Trigger Cell (spikes/s)"}},
"y":{"field":"y","type":"quantitative","bin":{"binned":true,"step":0.2},"scale":{"domain":[0,3],"nice":false,"zero":false},"axis":{"values":[0.5,1,1.5,2,2.5,3],"format":"~g","title":"Shadowing period (ms)","titlePadding":-8}},
"color":{"field":"v","type":"quantitative","scale":{"domain":[0,6.2,12.4,15.6,17.4,19.4,21.8,25.2,28,35,38.3,42,44.8,46.7,51.3,56,60.7,65.3,70],"range":["#3b3a8e","#363f95","#3059a8","#2f6db8","#2a88cc","#12b0ea","#3cb9e6","#86cbdc","#9dd2d4","#a6d5c4","#b4d9a0","#d9e25a","#fbe428","#fbd126","#f6a82b","#ef7b2c","#e8492a","#e31f25","#b82130"]},"legend":{"type":"gradient","title":null,"offset":28,"values":[0,10,20,30,40,50,60,70]}}
}},
{"width":378,"height":349,"data":{"name":"d"},
"title":{"text":"(d)"},
"mark":{"type":"rect","clip":true,"binSpacing":0,"strokeWidth":0.7,"stroke":{"expr":"scale('concat_3_color', datum.v)"}},
"encoding":{
"x":{"field":"x","type":"quantitative","bin":{"binned":true,"step":4},"scale":{"domain":[2,60],"nice":false,"zero":false},"axis":{"values":[20,40,60],"format":"d","title":"Trigger Cell (spikes/s)"}},
"y":{"field":"y","type":"quantitative","bin":{"binned":true,"step":0.2},"scale":{"domain":[0,3],"nice":false,"zero":false},"axis":{"values":[0.5,1,1.5,2,2.5,3],"format":"~g","title":"Shadowing period (ms)","titlePadding":-8}},
"color":{"field":"v","type":"quantitative","scale":{"domain":[0,6.2,12.4,15.6,17.4,19.4,21.8,25.2,28,35,38.3,42,44.8,46.7,51.3,56,60.7,65.3,70],"range":["#3b3a8e","#363f95","#3059a8","#2f6db8","#2a88cc","#12b0ea","#3cb9e6","#86cbdc","#9dd2d4","#a6d5c4","#b4d9a0","#d9e25a","#fbe428","#fbd126","#f6a82b","#ef7b2c","#e8492a","#e31f25","#b82130"]},"legend":{"type":"gradient","title":null,"offset":24,"values":[0,10,20,30,40,50,60,70]}}
}}
]
}
